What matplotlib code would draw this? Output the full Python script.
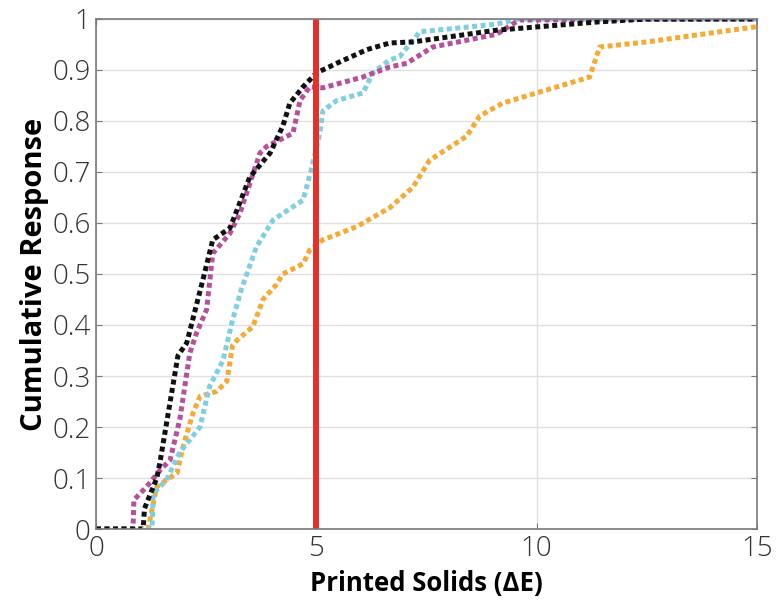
import matplotlib.pyplot as plt
import numpy as np

plt.rcParams['font.family'] = ['Open Sans', 'DejaVu Sans']

# cumulative response curves (x = delta E, y = fraction)
black_x = [0, 1.07, 1.1, 1.38, 1.45, 1.86, 2.06, 2.43, 2.65, 3.04, 3.49, 3.95, 4.24, 4.4, 4.7, 5.0, 5.46, 6.15, 6.67, 7.19, 9.09, 11.36, 12.5, 15]
black_y = [0, 0, 0.04, 0.10, 0.13, 0.34, 0.365, 0.49, 0.567, 0.59, 0.69, 0.737, 0.79, 0.835, 0.867, 0.894, 0.913, 0.94, 0.953, 0.955, 0.978, 0.994, 1.0, 1.0]

magenta_x = [0, 0.84, 0.86, 1.15, 1.45, 1.68, 1.9, 2.13, 2.28, 2.51, 2.65, 3.04, 3.27, 3.72, 3.87, 4.47, 4.63, 4.85, 5.15, 6.05, 6.67, 7.05, 7.64, 9.09, 9.6, 15]
magenta_y = [0, 0, 0.057, 0.083, 0.115, 0.135, 0.214, 0.345, 0.384, 0.43, 0.54, 0.58, 0.62, 0.737, 0.75, 0.776, 0.84, 0.867, 0.865, 0.886, 0.906, 0.913, 0.945, 0.97, 0.998, 1.0]

cyan_x = [0, 1.27, 1.3, 1.6, 1.9, 2.13, 2.36, 2.58, 2.88, 3.1, 3.3, 3.64, 4.02, 4.7, 4.9, 5.08, 5.15, 5.46, 6.06, 6.28, 6.67, 6.89, 7.35, 7.96, 9.09, 9.6, 15]
cyan_y = [0, 0, 0.07, 0.096, 0.15, 0.175, 0.2, 0.28, 0.33, 0.41, 0.47, 0.553, 0.606, 0.645, 0.71, 0.776, 0.82, 0.84, 0.855, 0.894, 0.92, 0.926, 0.975, 0.98, 0.99, 1.0, 1.0]

orange_x = [0, 1.18, 1.38, 1.6, 1.84, 1.97, 2.2, 2.36, 2.74, 2.97, 3.1, 3.2, 3.56, 3.79, 4.1, 4.24, 4.7, 4.85, 5.15, 5.92, 6.67, 7.19, 7.57, 8.41, 8.71, 9.23, 10.0, 11.2, 11.43, 12.5, 15]
orange_y = [0, 0, 0.083, 0.096, 0.11, 0.16, 0.227, 0.26, 0.27, 0.29, 0.36, 0.37, 0.397, 0.45, 0.48, 0.5, 0.52, 0.547, 0.567, 0.593, 0.63, 0.67, 0.723, 0.77, 0.81, 0.835, 0.855, 0.886, 0.945, 0.955, 0.985]

threshold = 5

fig = plt.figure(figsize=(7.76, 6.12), dpi=100)
ax = fig.add_axes([0.1237, 0.1356, 0.8518, 0.8334])

ax.set_xlim(0, 15)
ax.set_ylim(0, 1)
ax.set_xticks([0, 5, 10, 15])
ax.set_yticks(np.round(np.arange(0, 1.01, 0.1), 1))
ax.set_yticklabels(['0', '0.1', '0.2', '0.3', '0.4', '0.5', '0.6', '0.7', '0.8', '0.9', '1'])
ax.grid(True, color='#e0e0e0', linewidth=1.0)
ax.set_axisbelow(True)

dots = (1.0, 0.7)
ax.plot(orange_x, orange_y, color='#f4aa35', lw=3.6, dashes=dots)
ax.plot(cyan_x, cyan_y, color='#7fcfe3', lw=3.6, dashes=dots)
ax.plot(magenta_x, magenta_y, color='#b6509e', lw=3.6, dashes=dots)
ax.plot(black_x, black_y, color='#111111', lw=3.6, dashes=dots)
ax.axvline(threshold, color='#e5302a', lw=4.3)

for s in ax.spines.values():
    s.set_color('#7a7a7a')
    s.set_linewidth(1.2)
ax.tick_params(direction='in', length=4, color='#7a7a7a', labelsize=20,
               top=True, right=True, pad=4, labelcolor='#333333')
for lab in ax.get_xticklabels() + ax.get_yticklabels():
    lab.set_fontweight('light')

ax.set_xlabel('Printed Solids (ΔE)', fontsize=18.5, fontweight='bold', labelpad=5)
ax.set_ylabel('Cumulative Response', fontsize=21, fontweight='bold', labelpad=2)

fig.savefig('out.png', dpi=100)
